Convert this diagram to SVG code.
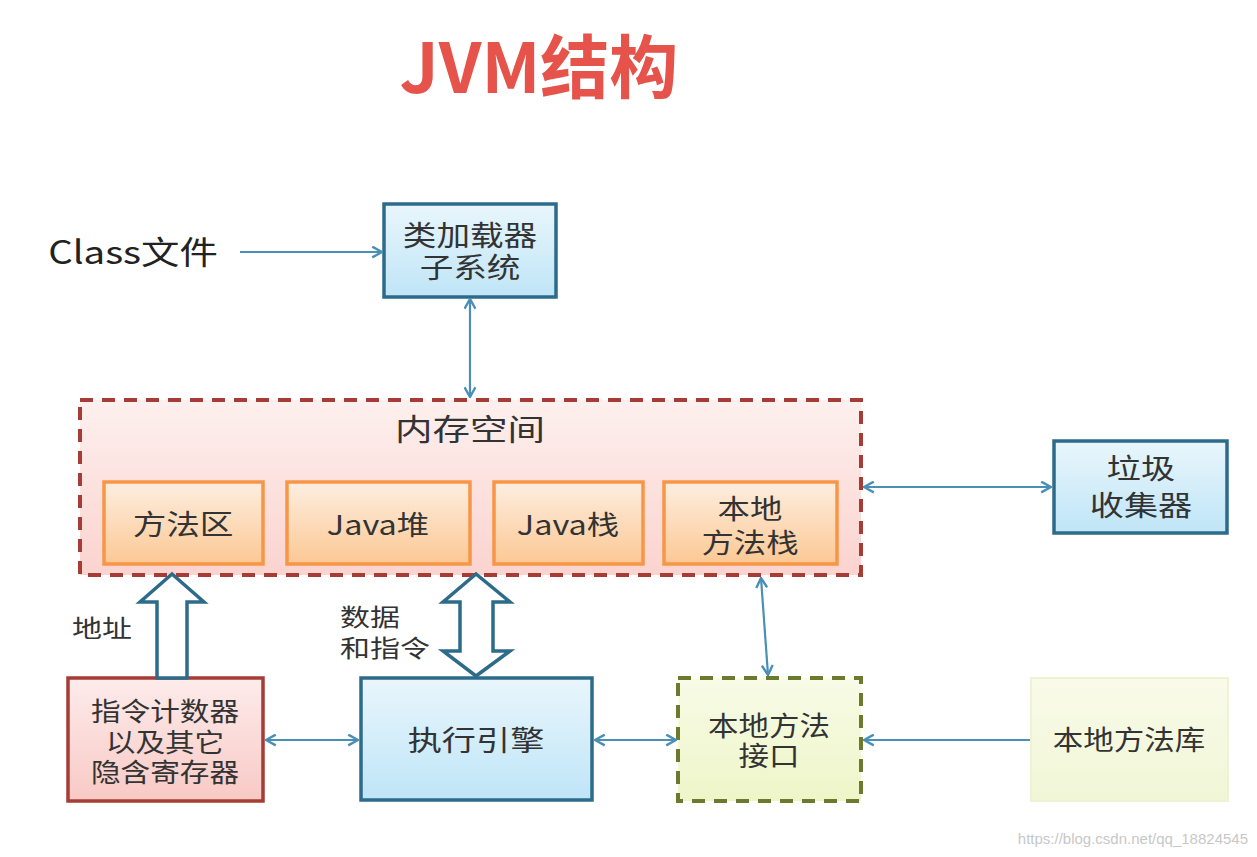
<svg xmlns="http://www.w3.org/2000/svg" width="1257" height="857" viewBox="0 0 1257 857">
<style>
text{font-family:"Noto Sans CJK SC","Microsoft YaHei",sans-serif;fill:#333;text-anchor:middle}
.t{font-size:27px}
.tl{font-size:28px}
.lbl{font-size:24px;text-anchor:start}
.blue{fill:url(#gBlue);stroke:#2d6b8a;stroke-width:3.5}
.org{fill:url(#gOrg);stroke:#f79646;stroke-width:3.5}
.conn{stroke:#4a8fb5;stroke-width:2.2;fill:none;marker-end:url(#ah)}
.dbl{marker-start:url(#ahs)}
.block{fill:#fff;stroke:#2d6b8a;stroke-width:3.5;stroke-linejoin:miter}
</style>
<defs>
<linearGradient id="gBlue" x1="0" y1="0" x2="0" y2="1"><stop offset="0" stop-color="#e9f6fc"/><stop offset="1" stop-color="#bfe5f7"/></linearGradient>
<linearGradient id="gOrg" x1="0" y1="0" x2="0" y2="1"><stop offset="0" stop-color="#fdeee0"/><stop offset="1" stop-color="#fcc894"/></linearGradient>
<linearGradient id="gMem" x1="0" y1="0" x2="0" y2="1"><stop offset="0" stop-color="#fdf0ee"/><stop offset="1" stop-color="#fbd3cf"/></linearGradient>
<linearGradient id="gRed" x1="0" y1="0" x2="0" y2="1"><stop offset="0" stop-color="#fdeceb"/><stop offset="1" stop-color="#f8c9c5"/></linearGradient>
<linearGradient id="gGrn" x1="0" y1="0" x2="0" y2="1"><stop offset="0" stop-color="#f8fbe6"/><stop offset="1" stop-color="#eef5c8"/></linearGradient>
<linearGradient id="gLib" x1="0" y1="0" x2="0" y2="1"><stop offset="0" stop-color="#f9fbe9"/><stop offset="1" stop-color="#f1f6d6"/></linearGradient>
<marker id="ah" viewBox="0 0 12 12" refX="11" refY="6" markerWidth="13" markerHeight="13" markerUnits="userSpaceOnUse" orient="auto">
<path d="M2,1 L11,6 L2,11" fill="none" stroke="#4a8fb5" stroke-width="2.2"/>
</marker>
<marker id="ahs" viewBox="0 0 12 12" refX="1" refY="6" markerWidth="13" markerHeight="13" markerUnits="userSpaceOnUse" orient="auto">
<path d="M10,1 L1,6 L10,11" fill="none" stroke="#4a8fb5" stroke-width="2.2"/>
</marker>
</defs>
<rect width="1257" height="857" fill="#fff"/>

<text x="539" y="93" style="font-size:69px;font-weight:bold;fill:#e5534b">JVM结构</text>

<g id="class-file"><text transform="translate(133,264) scale(1.2,1)" style="font-size:32px;fill:#222">Class文件</text></g>

<g id="classloader">
<rect class="blue" x="384" y="204" width="172" height="93"/>
<text class="tl" transform="translate(470,246) scale(1.2,1)"><tspan x="0" y="0">类加载器</tspan><tspan x="0" y="32">子系统</tspan></text>
</g>

<g id="memory">
<rect x="80" y="400" width="781" height="175" fill="url(#gMem)" stroke="#a53d36" stroke-width="4" stroke-dasharray="13,9"/>
<text transform="translate(470,440) scale(1.25,1)" style="font-size:30px">内存空间</text>
</g>
<g id="method-area"><rect class="org" x="104" y="482" width="159" height="82"/><text class="tl" transform="translate(183,535) scale(1.2,1)">方法区</text></g>
<g id="java-heap"><rect class="org" x="287" y="482" width="183" height="82"/><text class="t" transform="translate(378,535) scale(1.2,1)">Java堆</text></g>
<g id="java-stack"><rect class="org" x="494" y="482" width="149" height="82"/><text class="t" transform="translate(568,535) scale(1.2,1)">Java栈</text></g>
<g id="native-stack"><rect class="org" x="664" y="482" width="173" height="82"/>
<text class="t" transform="translate(750,519) scale(1.2,1)"><tspan x="0" y="0">本地</tspan><tspan x="0" y="34">方法栈</tspan></text></g>

<g id="gc">
<rect class="blue" x="1054" y="441" width="173" height="92"/>
<text class="tl" transform="translate(1141,479) scale(1.22,1)"><tspan x="0" y="0">垃圾</tspan><tspan x="0" y="37">收集器</tspan></text>
</g>

<g id="pc-register">
<rect x="68" y="678" width="195" height="123" fill="url(#gRed)" stroke="#a53d36" stroke-width="3.5"/>
<text transform="translate(165,721) scale(1.14,1)" style="font-size:26px"><tspan x="0" y="0">指令计数器</tspan><tspan x="0" y="31">以及其它</tspan><tspan x="0" y="61">隐含寄存器</tspan></text>
</g>

<g id="exec-engine">
<rect class="blue" x="361" y="678" width="231" height="122"/>
<text class="tl" transform="translate(476,751) scale(1.22,1)">执行引擎</text>
</g>

<g id="native-interface">
<rect x="678" y="678" width="183" height="123" fill="url(#gGrn)" stroke="#6b7a2e" stroke-width="4" stroke-dasharray="13,9"/>
<text class="t" transform="translate(769,736) scale(1.13,1)"><tspan x="0" y="0">本地方法</tspan><tspan x="0" y="30">接口</tspan></text>
</g>

<g id="native-lib">
<rect x="1031" y="678" width="197" height="123" fill="url(#gLib)" stroke="#eef3d6" stroke-width="2"/>
<text class="t" transform="translate(1129,750) scale(1.13,1)">本地方法库</text>
</g>

<g id="connectors">
<line class="conn" x1="240" y1="252" x2="382" y2="252"/>
<line class="conn dbl" x1="470" y1="299" x2="470" y2="397"/>
<line class="conn dbl" x1="864" y1="487" x2="1051" y2="487"/>
<line class="conn dbl" x1="266" y1="740" x2="358" y2="740"/>
<line class="conn dbl" x1="595" y1="740" x2="676" y2="740"/>
<line class="conn dbl" x1="761" y1="578" x2="768" y2="675"/>
<line class="conn" x1="1030" y1="740" x2="864" y2="740"/>
<path class="block" d="M157,678 L157,602 L140,602 L172,574 L204,602 L187,602 L187,678 Z"/>
<path class="block" d="M460,602 L443,602 L476,574 L510,602 L493,602 L493,651 L510,651 L476,676 L443,651 L460,651 Z"/>
</g>

<text class="lbl" transform="translate(72,637) scale(1.25,1)">地址</text>
<text class="lbl" transform="translate(340,626) scale(1.25,1)"><tspan x="0" y="0">数据</tspan><tspan x="0" y="31">和指令</tspan></text>

<text x="1248" y="844" style="font-size:15px;fill:#c8c8c8;text-anchor:end;font-family:'Liberation Sans',Arial,sans-serif">https://blog.csdn.net/qq_18824545</text>
</svg>
